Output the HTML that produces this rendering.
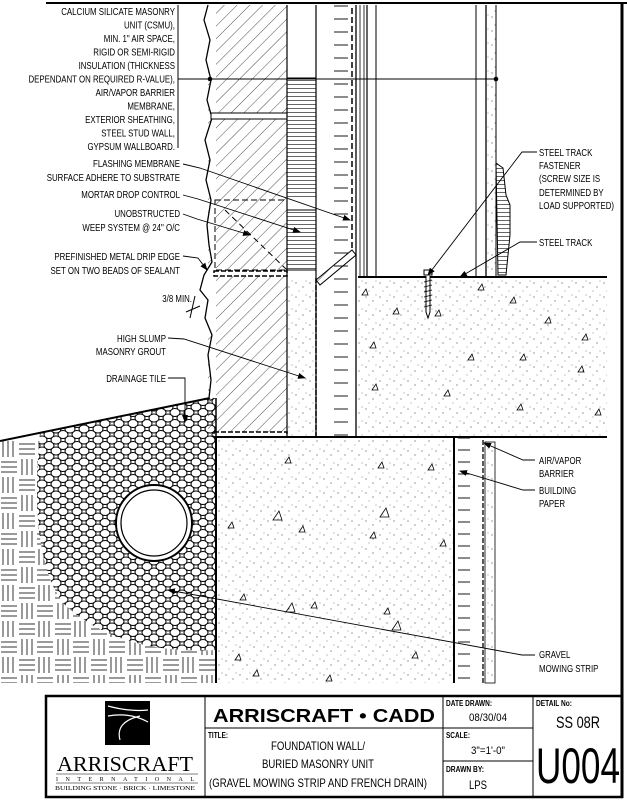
<!DOCTYPE html>
<html><head><meta charset="utf-8"><style>
html,body{margin:0;padding:0;background:#fff}
svg{display:block}
text{font-family:"Liberation Sans",sans-serif;fill:#000}
.l{font-size:10.5px}
</style></head><body>
<svg width="627" height="800" viewBox="0 0 627 800" xmlns="http://www.w3.org/2000/svg">
<defs>
<pattern id="hatch" width="9" height="9" patternUnits="userSpaceOnUse" patternTransform="rotate(45)">
<line x1="0" y1="0" x2="0" y2="9" stroke="#000" stroke-width="0.7"/></pattern>
<pattern id="dots" width="14" height="14" patternUnits="userSpaceOnUse">
<circle cx="2" cy="3" r="0.5"/><circle cx="9" cy="7" r="0.5"/><circle cx="5" cy="11" r="0.4"/><circle cx="12" cy="1" r="0.4"/></pattern>
<pattern id="insul" width="10" height="4" patternUnits="userSpaceOnUse">
<line x1="0" y1="0.5" x2="10" y2="0.5" stroke="#000" stroke-width="0.6"/></pattern>
<pattern id="gravel" width="14" height="11" patternUnits="userSpaceOnUse">
<rect width="14" height="11" fill="#fff"/>
<ellipse cx="7" cy="5.5" rx="5" ry="4" fill="#fff" stroke="#000" stroke-width="1"/>
<ellipse cx="0" cy="0" rx="5" ry="4" fill="#fff" stroke="#000" stroke-width="1"/>
<ellipse cx="14" cy="0" rx="5" ry="4" fill="#fff" stroke="#000" stroke-width="1"/>
<ellipse cx="0" cy="11" rx="5" ry="4" fill="#fff" stroke="#000" stroke-width="1"/>
<ellipse cx="14" cy="11" rx="5" ry="4" fill="#fff" stroke="#000" stroke-width="1"/></pattern>
<pattern id="weave" width="36" height="36" patternUnits="userSpaceOnUse" x="0" y="440">
<g stroke="#000" stroke-width="0.8">
<line x1="3" y1="1" x2="3" y2="17"/><line x1="8" y1="1" x2="8" y2="17"/><line x1="13" y1="1" x2="13" y2="17"/>
<line x1="19" y1="4" x2="35" y2="4"/><line x1="19" y1="9" x2="35" y2="9"/><line x1="19" y1="14" x2="35" y2="14"/>
<line x1="1" y1="22" x2="17" y2="22"/><line x1="1" y1="27" x2="17" y2="27"/><line x1="1" y1="32" x2="17" y2="32"/>
<line x1="22" y1="19" x2="22" y2="35"/><line x1="27" y1="19" x2="27" y2="35"/><line x1="32" y1="19" x2="32" y2="35"/></g></pattern>
<pattern id="ticks" width="40" height="13" patternUnits="userSpaceOnUse">
<line x1="14" y1="6" x2="28" y2="6" stroke="#000" stroke-width="0.9"/></pattern>
<pattern id="ticks2" width="42" height="12" patternUnits="userSpaceOnUse" x="454">
<line x1="4" y1="6" x2="16" y2="6" stroke="#000" stroke-width="0.9"/></pattern>
<marker id="ar" markerWidth="8" markerHeight="6" refX="7" refY="3" orient="auto" markerUnits="userSpaceOnUse">
<path d="M0,0 L8,3 L0,6 z"/></marker>
</defs>

<line x1="46" y1="3" x2="627" y2="3" stroke="#000" stroke-width="2"/>
<line x1="622" y1="3" x2="622" y2="798" stroke="#000" stroke-width="3"/>

<rect x="0" y="440" width="216" height="243" fill="url(#weave)"/>
<path d="M40,433 L210,398 L216,398 L216,650 Q120,655 65,605 Q28,560 40,433 Z" fill="url(#gravel)"/>
<line x1="0" y1="441" x2="210" y2="398" stroke="#000" stroke-width="2"/>
<circle cx="154" cy="523" r="38" fill="#fff" stroke="#000" stroke-width="2"/>
<circle cx="154" cy="523" r="33" fill="#fff" stroke="#000" stroke-width="1.2"/>

<rect x="208" y="5" width="79" height="432" fill="url(#hatch)"/>
<path d="M208,5 L204,20 L210,40 L206,60 L211,80 L207,100 L212,118 L205,140 L210,160 L206,180 L211,200 L207,225 L209,245 L212,262 L204,275 L200,290 L208,300 L205,318 L212,335 L208,355 L211,380 L209,398 L216,398 L216,5 Z" fill="#fff"/>
<path d="M208,5 L204,20 L210,40 L206,60 L211,80 L207,100 L212,118 L205,140 L210,160 L206,180 L211,200 L207,225 L209,245 L212,262 L204,275 L200,290 L208,300 L205,318 L212,335 L208,355 L211,380 L209,398" fill="none" stroke="#000" stroke-width="1.3"/>
<rect x="211" y="113" width="76" height="6" fill="#fff" stroke="#000" stroke-width="1"/>
<rect x="214" y="271" width="73" height="5" fill="#fff" stroke="#000" stroke-width="1.5" stroke-dasharray="5,2"/>
<rect x="214" y="432" width="73" height="5" fill="#fff" stroke="#000" stroke-width="1.5" stroke-dasharray="5,2"/>
<line x1="216" y1="398" x2="216" y2="437" stroke="#000" stroke-width="1.5"/>
<rect x="215" y="200" width="72" height="70" fill="none" stroke="#000" stroke-dasharray="6,3"/>
<line x1="225" y1="210" x2="287" y2="270" stroke="#000" stroke-dasharray="6,4"/>
<line x1="287" y1="5" x2="287" y2="437" stroke="#000" stroke-width="1.2"/>

<rect x="287" y="78" width="29" height="120" fill="url(#insul)"/>
<rect x="287" y="210" width="29" height="60" fill="url(#insul)"/>
<line x1="287" y1="78" x2="316" y2="78" stroke="#000"/>
<rect x="287" y="210" width="29" height="60" fill="none" stroke="#000"/>
<rect x="287" y="278" width="29" height="159" fill="url(#dots)"/>
<line x1="316" y1="278" x2="316" y2="437" stroke="#000" stroke-dasharray="5,2" stroke-width="1.5"/>
<path d="M316,280 L352,250 L356,255 L320,285 Z" fill="url(#hatch)" stroke="#000" stroke-width="1"/>
<line x1="316" y1="5" x2="316" y2="437" stroke="#000" stroke-width="1.2"/>

<rect x="316" y="5" width="40" height="432" fill="url(#ticks)"/>
<line x1="352" y1="8" x2="352" y2="250" stroke="#000" stroke-width="1.5" stroke-dasharray="6,3"/>
<line x1="356" y1="5" x2="356" y2="437" stroke="#000" stroke-width="1.3"/>
<line x1="360" y1="5" x2="360" y2="277" stroke="#000" stroke-width="0.8"/>
<line x1="364" y1="5" x2="364" y2="277" stroke="#000" stroke-width="0.8"/>
<line x1="367" y1="5" x2="367" y2="277" stroke="#000" stroke-width="1.2"/>
<line x1="376" y1="5" x2="376" y2="277" stroke="#000" stroke-width="1"/>
<line x1="476" y1="5" x2="476" y2="277" stroke="#000" stroke-width="1"/>
<line x1="486" y1="5" x2="486" y2="277" stroke="#000" stroke-width="1.3"/>
<line x1="496" y1="5" x2="496" y2="277" stroke="#000" stroke-width="1"/>
<rect x="487" y="5" width="9" height="272" fill="url(#dots)"/>
<path d="M496,163 L503,168 L506,195 L510,205 L510,235 L506,275 L498,275 Z" fill="url(#insul)" stroke="#000"/>

<rect x="358" y="278" width="249" height="159" fill="url(#dots)"/>
<line x1="358" y1="277" x2="607" y2="277" stroke="#000" stroke-width="2"/>
<line x1="216" y1="437" x2="607" y2="437" stroke="#000" stroke-width="2"/>
<rect x="424" y="270" width="8" height="5" fill="#fff" stroke="#000"/>
<path d="M426,276 L426,312 L428,318 L430,312 L430,276" fill="#fff" stroke="#000"/>
<g stroke="#000" stroke-width="0.8">
<path d="M424,282 l8,-2 M424,287 l8,-2 M424,292 l8,-2 M424,297 l8,-2 M424,302 l8,-2 M424,307 l8,-2"/></g>

<rect x="216" y="438" width="238" height="245" fill="url(#dots)"/>
<line x1="216" y1="437" x2="216" y2="683" stroke="#000" stroke-width="2"/>
<rect x="454" y="437" width="42" height="246" fill="url(#ticks2)"/>
<line x1="454" y1="437" x2="454" y2="683" stroke="#000" stroke-width="2"/>
<line x1="483" y1="440" x2="483" y2="683" stroke="#000" stroke-dasharray="5,2" stroke-width="1.3"/>
<rect x="485" y="442" width="10" height="241" fill="url(#dots)" stroke="#000" stroke-width="0.8"/>

<g fill="none" stroke="#000" stroke-width="0.8">
<path d="M362,295 l4,-6 l2,6z M393,314 l4,-6 l2,6z M435,316 l4,-6 l2,6z M510,303 l4,-6 l2,6z M582,340 l4,-6 l2,6z M370,348 l4,-6 l2,6z M468,360 l4,-6 l2,6z M520,360 l4,-6 l2,6z M372,390 l4,-6 l2,6z M444,396 l4,-6 l2,6z M595,415 l4,-6 l2,6z M517,410 l4,-6 l2,6z M478,290 l4,-6 l2,6z M545,323 l4,-6 l2,6z M578,372 l4,-6 l2,6z
M285,463 l4,-6 l2,6z M273,520 l6,-9 l3,9z M378,468 l4,-6 l2,6z M428,470 l4,-6 l2,6z M380,517 l6,-9 l3,9z M299,532 l4,-6 l2,6z M228,528 l4,-6 l2,6z M370,538 l4,-6 l2,6z M440,546 l4,-6 l2,6z M240,600 l4,-6 l2,6z M286,612 l6,-9 l3,9z M311,608 l4,-6 l2,6z M392,630 l6,-9 l3,9z M384,614 l4,-6 l2,6z M253,676 l4,-6 l2,6z M326,681 l4,-6 l2,6z M235,660 l4,-6 l2,6z M412,658 l4,-6 l2,6z"/></g>

<line x1="178" y1="5" x2="178" y2="148" stroke="#000"/>
<line x1="178" y1="79" x2="496" y2="79" stroke="#000"/>
<circle cx="210" cy="79" r="2.3"/><circle cx="496" cy="79" r="2.3"/>

<g class="l" text-anchor="end" transform="scale(0.75,1)">
<text x="233.3" y="15">CALCIUM SILICATE MASONRY</text>
<text x="233.3" y="28.5">UNIT (CSMU),</text>
<text x="233.3" y="42">MIN. 1" AIR SPACE,</text>
<text x="233.3" y="55.5">RIGID OR SEMI-RIGID</text>
<text x="233.3" y="69">INSULATION (THICKNESS</text>
<text x="233.3" y="82.5">DEPENDANT ON REQUIRED R-VALUE),</text>
<text x="233.3" y="96">AIR/VAPOR BARRIER</text>
<text x="233.3" y="109.5">MEMBRANE,</text>
<text x="233.3" y="123">EXTERIOR SHEATHING,</text>
<text x="233.3" y="136.5">STEEL STUD WALL,</text>
<text x="233.3" y="150">GYPSUM WALLBOARD.</text>
<text x="240" y="167">FLASHING MEMBRANE</text>
<text x="240" y="181">SURFACE ADHERE TO SUBSTRATE</text>
<text x="240" y="198">MORTAR DROP CONTROL</text>
<text x="240" y="217">UNOBSTRUCTED</text>
<text x="240" y="231">WEEP SYSTEM @ 24" O/C</text>
<text x="240" y="260">PREFINISHED METAL DRIP EDGE</text>
<text x="240" y="274">SET ON TWO BEADS OF SEALANT</text>
<text x="256" y="302">3/8 MIN.</text>
<text x="221.3" y="342">HIGH SLUMP</text>
<text x="221.3" y="355">MASONRY GROUT</text>
<text x="221.3" y="382">DRAINAGE TILE</text>
</g>
<g class="l" transform="scale(0.75,1)">
<text x="718.7" y="156">STEEL TRACK</text>
<text x="718.7" y="169">FASTENER</text>
<text x="718.7" y="182">(SCREW SIZE IS</text>
<text x="718.7" y="196">DETERMINED BY</text>
<text x="718.7" y="209">LOAD SUPPORTED)</text>
<text x="718.7" y="246">STEEL TRACK</text>
<text x="718.7" y="464">AIR/VAPOR</text>
<text x="718.7" y="477">BARRIER</text>
<text x="718.7" y="494">BUILDING</text>
<text x="718.7" y="507">PAPER</text>
<text x="718.7" y="658">GRAVEL</text>
<text x="718.7" y="672">MOWING STRIP</text>
</g>

<g fill="none" stroke="#000" stroke-width="0.9" marker-end="url(#ar)">
<path d="M183,164 L200,168 L350,220"/>
<path d="M183,195 L198,199 L300,232"/>
<path d="M183,214 L197,219 L250,235"/>
<path d="M183,256 L198,258 L207,270"/>
<path d="M168,338 L184,339 L305,378"/>
<path d="M168,378 L185,378 L185,422"/>
<path d="M537,152 L522,152 L428,275"/>
<path d="M537,242 L520,242 L460,277"/>
<path d="M535,460 L523,460 L484,443"/>
<path d="M535,490 L523,490 L460,471"/>
<path d="M535,655 L522,655 L168,590"/>
</g>
<path d="M195,296 L190,318 M186,312 L200,306" stroke="#000" fill="none"/>

<rect x="46" y="696" width="576" height="101" fill="none" stroke="#000" stroke-width="2.5"/>
<line x1="205" y1="696" x2="205" y2="797" stroke="#000" stroke-width="1"/>
<line x1="443" y1="696" x2="443" y2="797" stroke="#000" stroke-width="1"/>
<line x1="533" y1="696" x2="533" y2="797" stroke="#000" stroke-width="1"/>
<line x1="205" y1="728" x2="443" y2="728" stroke="#000"/>
<line x1="443" y1="728" x2="533" y2="728" stroke="#000"/>
<line x1="443" y1="761" x2="533" y2="761" stroke="#000"/>

<rect x="105" y="701" width="45" height="44" fill="#000"/>
<path d="M108,706 Q130,712 148,710 M108,716 Q130,712 148,722 M140,716 Q115,722 120,740" stroke="#fff" fill="none" stroke-width="1.2"/>
<text x="125" y="771" text-anchor="middle" style="font-family:'Liberation Serif',serif;font-size:21px" textLength="136" lengthAdjust="spacingAndGlyphs">ARRISCRAFT</text>
<line x1="56" y1="774" x2="198" y2="774" stroke="#000" stroke-width="0.6"/>
<text x="125" y="781" text-anchor="middle" style="font-family:'Liberation Serif',serif;font-size:6px" textLength="138" lengthAdjust="spacing">INTERNATIONAL</text>
<line x1="56" y1="783" x2="198" y2="783" stroke="#000" stroke-width="0.6"/>
<text x="125" y="790" text-anchor="middle" style="font-family:'Liberation Serif',serif;font-size:6.5px" textLength="140" lengthAdjust="spacingAndGlyphs">BUILDING STONE · BRICK · LIMESTONE</text>

<text x="324" y="722" text-anchor="middle" style="font-size:18px;font-weight:bold" textLength="222" lengthAdjust="spacingAndGlyphs">ARRISCRAFT • CADD</text>
<text x="208" y="738" style="font-size:8px;font-weight:bold" textLength="20" lengthAdjust="spacingAndGlyphs">TITLE:</text>
<text x="318" y="750" text-anchor="middle" style="font-size:12px" textLength="94" lengthAdjust="spacingAndGlyphs">FOUNDATION WALL/</text>
<text x="318" y="768" text-anchor="middle" style="font-size:12px" textLength="112" lengthAdjust="spacingAndGlyphs">BURIED MASONRY UNIT</text>
<text x="318" y="787" text-anchor="middle" style="font-size:12px" textLength="218" lengthAdjust="spacingAndGlyphs">(GRAVEL MOWING STRIP AND FRENCH DRAIN)</text>
<text x="446" y="706" style="font-size:8px;font-weight:bold" textLength="46" lengthAdjust="spacingAndGlyphs">DATE DRAWN:</text>
<text x="488" y="721" text-anchor="middle" style="font-size:11px" textLength="38" lengthAdjust="spacingAndGlyphs">08/30/04</text>
<text x="446" y="738" style="font-size:8px;font-weight:bold" textLength="24" lengthAdjust="spacingAndGlyphs">SCALE:</text>
<text x="488" y="754" text-anchor="middle" style="font-size:11px" textLength="34" lengthAdjust="spacingAndGlyphs">3"=1'-0"</text>
<text x="446" y="772" style="font-size:8px;font-weight:bold" textLength="38" lengthAdjust="spacingAndGlyphs">DRAWN BY:</text>
<text x="478" y="789" text-anchor="middle" style="font-size:12px" textLength="18" lengthAdjust="spacingAndGlyphs">LPS</text>
<text x="536" y="706" style="font-size:8px;font-weight:bold" textLength="36" lengthAdjust="spacingAndGlyphs">DETAIL No:</text>
<text x="578" y="728" text-anchor="middle" style="font-size:17px" textLength="44" lengthAdjust="spacingAndGlyphs">SS 08R</text>
<text x="578" y="783" text-anchor="middle" style="font-size:50px" textLength="84" lengthAdjust="spacingAndGlyphs">U004</text>
</svg>
</body></html>
